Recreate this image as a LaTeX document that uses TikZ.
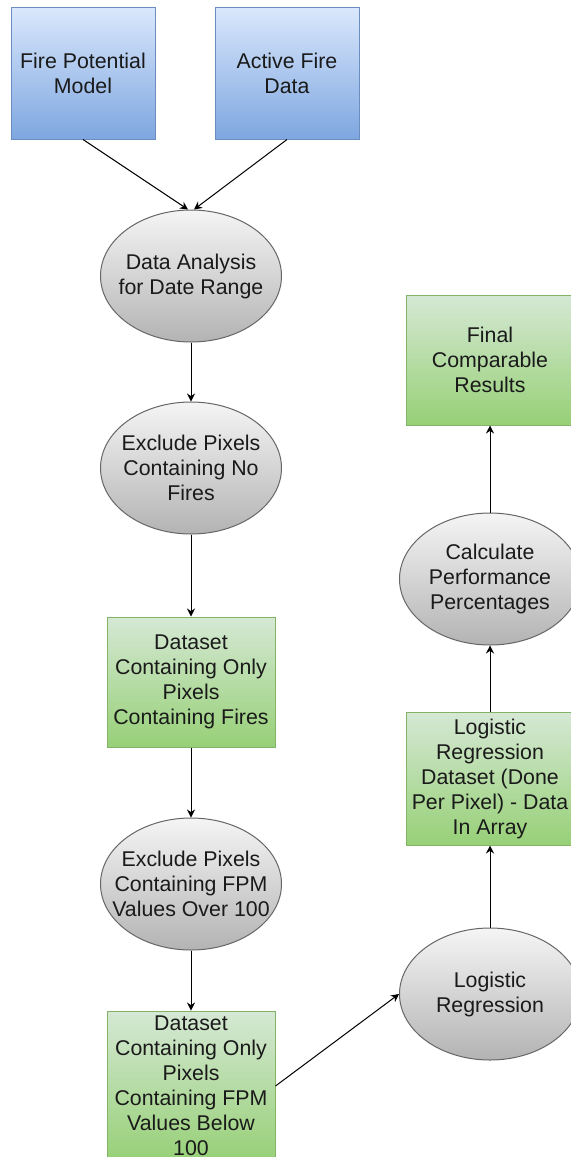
\documentclass[tikz,border=0pt]{standalone}
\usepackage{fontspec}
\setmainfont{Liberation Sans}
\usetikzlibrary{shapes.geometric,arrows.meta}
\definecolor{bluetop}{HTML}{DAE8FC}
\definecolor{bluebot}{HTML}{7EA6E0}
\definecolor{blueline}{HTML}{6C8EBF}
\definecolor{greentop}{HTML}{D5E8D4}
\definecolor{greenbot}{HTML}{97D077}
\definecolor{greenline}{HTML}{82B366}
\definecolor{graytop}{HTML}{F5F5F5}
\definecolor{graybot}{HTML}{B3B3B3}
\definecolor{grayline}{HTML}{666666}
\definecolor{ink}{HTML}{1A1A1A}
\begin{document}
\begin{tikzpicture}[x=0.75pt,y=-0.75pt,
  every node/.style={font=\fontsize{16}{18.75}\selectfont, text=ink, align=center, inner sep=0pt},
  sourcebox/.style={rectangle, draw=blueline, line width=0.75pt, top color=bluetop, bottom color=bluebot,
    minimum width=108pt, minimum height=99pt},
  databox/.style={rectangle, draw=greenline, line width=0.75pt, top color=greentop, bottom color=greenbot,
    minimum width=126pt, minimum height=97.5pt},
  process/.style={ellipse, draw=grayline, line width=0.75pt, top color=graytop, bottom color=graybot,
    inner xsep=-45pt, inner ysep=-25pt, minimum width=135.75pt, minimum height=99pt},
  flow/.style={draw=black, line width=0.75pt, -{Stealth[length=6pt,width=6pt]}}]
\useasboundingbox (0,0) rectangle (571,1157);
\clip (0,0) rectangle (571,1157);
\fill[white] (0,0) rectangle (571,1157);

% inputs
\node[sourcebox] (fpm) at (83,73) {Fire Potential\\Model};
\node[sourcebox] (afd) at (287,73) {Active Fire\\Data};

% left column
\node[process] (range) at (191,276) {Data Analysis\\for Date Range};
\node[process] (nofire) at (191,468) {Exclude Pixels\\Containing No\\Fires};
\node[databox] (fires) at (191,682) {Dataset\\Containing Only\\Pixels\\Containing Fires};
\node[process] (over) at (191,884) {Exclude Pixels\\Containing FPM\\Values Over 100};
\node[databox, minimum height=112.5pt] (below) at (191,1086) {Dataset\\Containing Only\\Pixels\\Containing FPM\\Values Below\\100};

% right column
\node[process] (logreg) at (490,994) {Logistic\\Regression};
\node[databox, minimum height=99.75pt] (lrdata) at (490,778.5) {Logistic\\Regression\\Dataset (Done\\Per Pixel) - Data\\In Array};
\node[process] (perf) at (490,579) {Calculate\\Performance\\Percentages};
\node[databox] (final) at (490,360) {Final\\Comparable\\Results};

% connectors
\draw[flow] (fpm.south) -- ([xshift=-2.25pt]range.north);
\draw[flow] (afd.south) -- ([xshift=2.25pt]range.north);
\draw[flow] (range) -- (nofire);
\draw[flow] (nofire) -- (fires);
\draw[flow] (fires) -- (over);
\draw[flow] (over) -- (below);
\draw[flow] (below.east) -- (logreg.west);
\draw[flow] (logreg) -- (lrdata);
\draw[flow] (lrdata) -- (perf);
\draw[flow] (perf) -- (final);
\end{tikzpicture}
\end{document}
